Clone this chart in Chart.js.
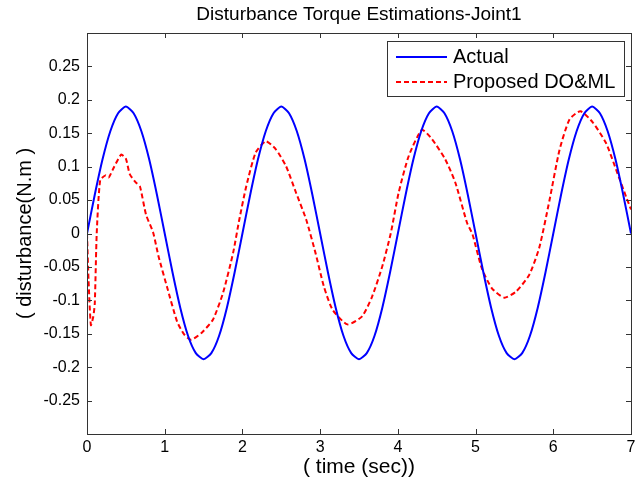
<!DOCTYPE html>
<html>
<head>
<meta charset="utf-8">
<script src="https://cdn.jsdelivr.net/npm/chart.js@4"></script>
<style>
  html, body { margin: 0; padding: 0; background: #fff; }
  #wrap { width: 641px; height: 482px; }
</style>
</head>
<body>
<div id="wrap"><canvas id="torque"></canvas></div>
<script>
// time samples for the actual torque (sec)
const timeActual = [0, 0.1, 0.2, 0.3, 0.4, 0.5, 0.6, 0.7, 0.8, 0.9,
    1.0, 1.1, 1.2, 1.3, 1.4, 1.5, 1.6, 1.7, 1.8, 1.9,
    2.0, 2.1, 2.2, 2.3, 2.4, 2.5, 2.6, 2.7, 2.8, 2.9,
    3.0, 3.1, 3.2, 3.3, 3.4, 3.5, 3.6, 3.7, 3.8, 3.9,
    4.0, 4.1, 4.2, 4.3, 4.4, 4.5, 4.6, 4.7, 4.8, 4.9,
    5.0, 5.1, 5.2, 5.3, 5.4, 5.5, 5.6, 5.7, 5.8, 5.9,
    6.0, 6.1, 6.2, 6.3, 6.4, 6.5, 6.6, 6.7, 6.8, 6.9, 7.0];
const actual = [0, 0.058, 0.111, 0.153, 0.180, 0.190, 0.180, 0.153, 0.111, 0.058,
    0, -0.058, -0.111, -0.153, -0.179, -0.188, -0.179, -0.153, -0.111, -0.058,
    0, 0.058, 0.111, 0.153, 0.180, 0.190, 0.180, 0.153, 0.111, 0.058,
    0, -0.058, -0.111, -0.153, -0.179, -0.188, -0.179, -0.153, -0.111, -0.058,
    0, 0.058, 0.111, 0.153, 0.180, 0.190, 0.180, 0.153, 0.111, 0.058,
    0, -0.058, -0.111, -0.153, -0.179, -0.188, -0.179, -0.153, -0.111, -0.058,
    0, 0.058, 0.111, 0.153, 0.180, 0.190, 0.180, 0.153, 0.111, 0.058, 0];

// time samples for the estimate (sec)
const timeEst = [0, 0.02, 0.05, 0.08, 0.10, 0.125, 0.17, 0.24, 0.28, 0.35,
    0.44, 0.50, 0.55, 0.63, 0.68, 0.76, 0.85, 0.92, 1.03, 1.16,
    1.25, 1.34, 1.48, 1.62, 1.75, 1.88, 1.96, 2.05, 2.17, 2.30,
    2.43, 2.56, 2.69, 2.82, 2.94, 3.05, 3.16, 3.35, 3.54, 3.67,
    3.80, 3.91, 4.01, 4.14, 4.31, 4.44, 4.61, 4.74, 4.89, 4.96,
    5.08, 5.21, 5.37, 5.52, 5.69, 5.82, 5.95, 6.08, 6.21, 6.35,
    6.51, 6.68, 6.81, 6.94, 7.0];
const estimate = [0, -0.07, -0.137, -0.125, -0.105, 0, 0.08, 0.087, 0.084, 0.1,
    0.118, 0.112, 0.089, 0.076, 0.071, 0.028, 0.002, -0.034, -0.080, -0.132,
    -0.151, -0.159, -0.148, -0.129, -0.089, -0.029, 0.021, 0.071, 0.121, 0.138,
    0.126, 0.101, 0.061, 0.021, -0.029, -0.080, -0.114, -0.136, -0.124, -0.094,
    -0.049, 0.001, 0.061, 0.116, 0.155, 0.141, 0.111, 0.076, 0.016, -0.001,
    -0.052, -0.082, -0.096, -0.087, -0.062, -0.021, 0.049, 0.125, 0.171, 0.183,
    0.166, 0.135, 0.095, 0.054, 0.036];

const xTicks = [0, 1, 2, 3, 4, 5, 6, 7];
const yTicks = [-0.25, -0.2, -0.15, -0.1, -0.05, 0, 0.05, 0.1, 0.15, 0.2, 0.25];
const seriesNames = ['Actual', 'Proposed DO&ML'];

const FONT = "'Liberation Sans', Arial, sans-serif";

function pts(xs, ys) {
    return xs.map((x, i) => ({ x: x, y: ys[i] }));
}

// box, inward ticks, legend and labels in matlab style
const matlabFrame = {
    id: 'matlabFrame',
    afterDatasetsDraw(chart) {
        const { ctx, chartArea: a, scales } = chart;
        ctx.save();
        ctx.strokeStyle = '#333';
        ctx.lineWidth = 1;
        ctx.setLineDash([]);
        ctx.strokeRect(Math.round(a.left) + 0.5, Math.round(a.top) + 0.5,
            Math.round(a.right - a.left), Math.round(a.bottom - a.top));

        const tl = 5;
        ctx.beginPath();
        xTicks.forEach(v => {
            const px = Math.round(scales.x.getPixelForValue(v)) + 0.5;
            ctx.moveTo(px, a.bottom); ctx.lineTo(px, a.bottom - tl);
            ctx.moveTo(px, a.top); ctx.lineTo(px, a.top + tl);
        });
        yTicks.forEach(v => {
            const py = Math.round(scales.y.getPixelForValue(v)) + 0.5;
            ctx.moveTo(a.left, py); ctx.lineTo(a.left + tl, py);
            ctx.moveTo(a.right, py); ctx.lineTo(a.right - tl, py);
        });
        ctx.stroke();

        // legend
        const lx = 387, ly = 41, lw = 237, lh = 55;
        ctx.fillStyle = '#fff';
        ctx.fillRect(lx, ly, lw, lh);
        ctx.strokeStyle = '#333';
        ctx.strokeRect(lx + 0.5, ly + 0.5, lw, lh);
        chart.data.datasets.forEach((ds, i) => {
            const yy = ly + 16 + i * 25;
            ctx.strokeStyle = ds.borderColor;
            ctx.lineWidth = 2;
            ctx.setLineDash(ds.borderDash || []);
            ctx.beginPath();
            ctx.moveTo(396, yy); ctx.lineTo(447, yy);
            ctx.stroke();
            ctx.setLineDash([]);
            ctx.fillStyle = '#000';
            ctx.font = '20px ' + FONT;
            ctx.textAlign = 'left';
            ctx.textBaseline = 'middle';
            ctx.fillText(ds.label, 453, yy);
        });

        // title and axis labels
        ctx.fillStyle = '#000';
        ctx.textAlign = 'center';
        ctx.textBaseline = 'middle';
        ctx.font = '19px ' + FONT;
        ctx.fillText('Disturbance Torque Estimations-Joint1', (a.left + a.right) / 2, 15);
        ctx.font = '21px ' + FONT;
        ctx.fillText('( time (sec))', (a.left + a.right) / 2, 467);
        ctx.font = '20px ' + FONT;
        ctx.save();
        ctx.translate(25, (a.top + a.bottom) / 2);
        ctx.rotate(-Math.PI / 2);
        ctx.fillText('( disturbance(N.m )', 0, 0);
        ctx.restore();
        ctx.restore();
    }
};

window.addEventListener('load', () => {

    const ctx = document.getElementById('torque');

    new Chart(ctx, {
        type: 'line',
        data: {
            datasets: [
                {
                    label: seriesNames[0],
                    data: pts(timeActual, actual),
                    borderColor: '#0000ff',
                    borderWidth: 2,
                    pointRadius: 0,
                    tension: 0.2
                },
                {
                    label: seriesNames[1],
                    data: pts(timeEst, estimate),
                    borderColor: '#ff0000',
                    borderWidth: 2,
                    borderDash: [5, 3],
                    pointRadius: 0,
                    tension: 0.2
                }
            ]
        },
        options: {
            responsive: true,
            maintainAspectRatio: false,
            animation: false,
            layout: { padding: { top: 33, right: 10, left: 0, bottom: 0 } },
            scales: {
                x: {
                    type: 'linear',
                    min: 0,
                    max: 7,
                    afterFit: s => { s.height = 48; },
                    grid: { display: false, drawTicks: false },
                    border: { display: false },
                    ticks: {
                        stepSize: 1,
                        padding: 4,
                        color: '#000',
                        font: { family: FONT, size: 16 }
                    }
                },
                y: {
                    min: -0.3,
                    max: 0.3,
                    afterFit: s => { s.width = 87; },
                    grid: { display: false, drawTicks: false },
                    border: { display: false },
                    ticks: {
                        stepSize: 0.05,
                        autoSkip: false,
                        padding: 7,
                        color: '#000',
                        font: { family: FONT, size: 16 },
                        callback: v => {
                            const r = Math.round(v * 100) / 100;
                            return Math.abs(r) > 0.29 ? '' : String(r);
                        }
                    }
                }
            },
            plugins: {
                legend: { display: false },
                tooltip: { enabled: false },
                title: { display: false }
            }
        },
        plugins: [matlabFrame]
    });

});
</script>
</body>
</html>
